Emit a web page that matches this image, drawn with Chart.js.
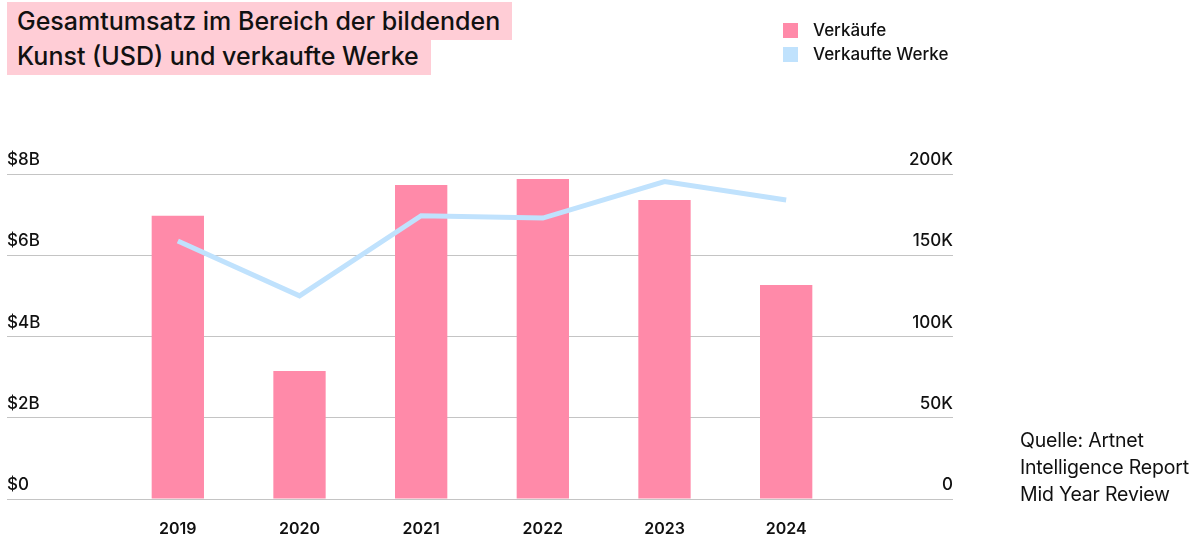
<!DOCTYPE html>
<html lang="de">
<head>
<meta charset="utf-8">
<script src="https://cdn.jsdelivr.net/npm/chart.js@4"></script>
<style>
  html, body { margin: 0; padding: 0; background: #fff; }
  body { width: 1201px; height: 535px; position: relative; overflow: hidden; font-family: Inter, "Noto Sans", sans-serif; color: #111; }
  #chartWrap { position: absolute; left: 0; top: 0; width: 1201px; height: 535px; }
  .title { position: absolute; left: 7px; top: 4px; width: 540px; font-size: 25px; font-weight: 500; line-height: 35px; }
  .title span { background: #ffcdd6; padding: 4px 12px 4px 10px; -webkit-box-decoration-break: clone; box-decoration-break: clone; }
  .legend { position: absolute; left: 783px; top: 18px; font-size: 17px; font-weight: 500; }
  .legend div { display: flex; align-items: center; height: 24px; }
  .legend i { display: inline-block; width: 15px; height: 15px; margin-right: 15px; }
  .source { position: absolute; left: 1020px; top: 427px; font-size: 19.5px; line-height: 27px; font-weight: 400; letter-spacing: -0.2px; }
</style>
</head>
<body>
<div id="chartWrap"><canvas id="artChart" width="1201" height="535"></canvas></div>
<div class="title"><span>Gesamtumsatz im Bereich der bildenden Kunst (USD) und verkaufte Werke</span></div>
<div class="legend" id="legend"></div>
<div class="source">Quelle: Artnet<br>Intelligence Report<br>Mid Year Review</div>
<script>
// Data
const years = ['2019', '2020', '2021', '2022', '2023', '2024'];
const salesBillions = [6.97, 3.15, 7.73, 7.88, 7.36, 5.27];   // Verkäufe in Mrd. USD
const worksSold = [158800, 125000, 174300, 172900, 195300, 184000]; // Verkaufte Werke
const salesTicks = [0, 2, 4, 6, 8];
const worksTicks = [0, 50000, 100000, 150000, 200000];

const pink = '#ff8aa9';
const blue = '#c0e2fd';
const gridColor = '#c4c4c4';
const inkColor = '#111';

const datasets = [
    {
        type: 'line',
        label: 'Verkaufte Werke',
        data: worksSold,
        yAxisID: 'yWorks',
        borderColor: blue,
        backgroundColor: blue,
        borderWidth: 5,
        pointRadius: 0,
        tension: 0,
        order: 0
    },
    {
        type: 'bar',
        label: 'Verkäufe',
        data: salesBillions,
        yAxisID: 'ySales',
        backgroundColor: pink,
        categoryPercentage: 1,
        barPercentage: 0.43,
        order: 1
    }
];

// Legend (bars first, like the original)
const legendEl = document.getElementById('legend');
[datasets[1], datasets[0]].forEach(ds => {
    const row = document.createElement('div');
    row.innerHTML = '<i style="background:' + ds.backgroundColor + '"></i>' + ds.label;
    legendEl.appendChild(row);
});

const tickFont = { family: 'Inter', size: 17, weight: 500 };

const artChart = new Chart(document.getElementById('artChart'), {
    type: 'bar',
    data: { labels: years, datasets: datasets },
    options: {
        responsive: false,
        animation: false,
        layout: { padding: { left: 7, right: 248, top: 174, bottom: 0 } },
        plugins: { legend: { display: false }, tooltip: { enabled: false } },
        scales: {
            x: {
                grid: { display: false },
                border: { display: false },
                ticks: { color: inkColor, padding: 13, font: { family: 'Inter', size: 16, weight: 600 } },
                afterFit: s => { s.height = 36; }
            },
            ySales: {
                position: 'left',
                min: 0,
                max: salesTicks[salesTicks.length - 1],
                afterBuildTicks: s => { s.ticks = salesTicks.map(v => ({ value: v })); },
                grid: { color: gridColor, lineWidth: 1, tickLength: 110, drawTicks: true },
                border: { display: false },
                ticks: {
                    color: inkColor,
                    crossAlign: 'far',
                    labelOffset: -14,
                    font: tickFont,
                    callback: v => v === 0 ? '$0' : '$' + v + 'B'
                },
                afterFit: s => { s.width = 110; }
            },
            yWorks: {
                position: 'right',
                min: 0,
                max: worksTicks[worksTicks.length - 1],
                afterBuildTicks: s => { s.ticks = worksTicks.map(v => ({ value: v })); },
                grid: { color: gridColor, lineWidth: 1, tickLength: 106, drawTicks: true, drawOnChartArea: false },
                border: { display: false },
                ticks: {
                    color: inkColor,
                    crossAlign: 'far',
                    labelOffset: -14,
                    font: tickFont,
                    callback: v => v === 0 ? '0' : (v / 1000) + 'K'
                },
                afterFit: s => { s.width = 106; }
            }
        }
    }
});
</script>
</body>
</html>
